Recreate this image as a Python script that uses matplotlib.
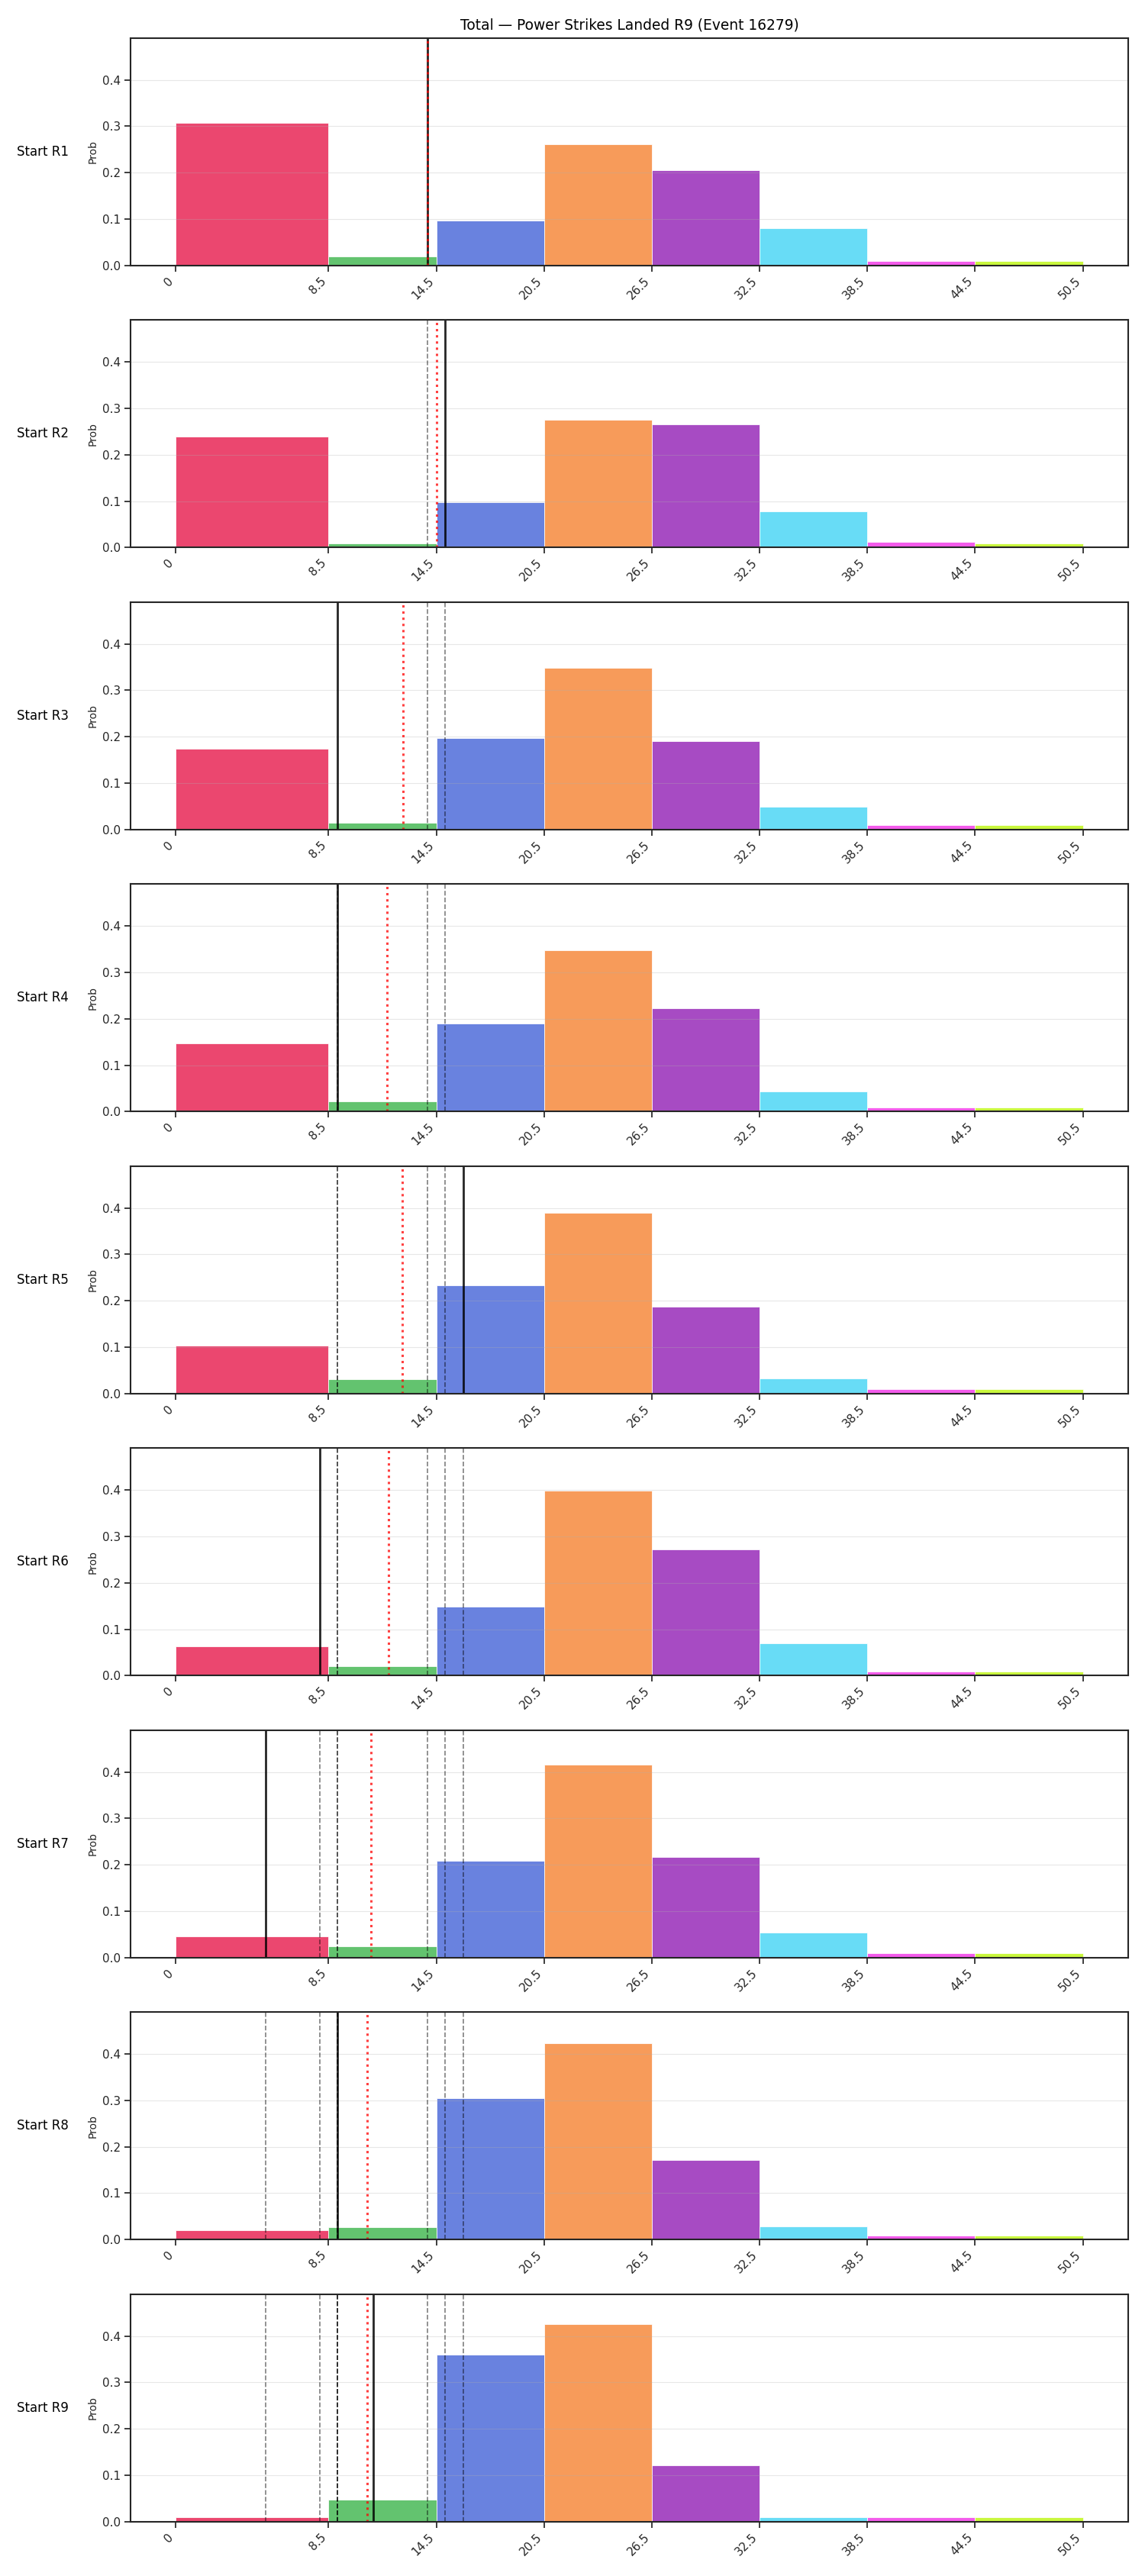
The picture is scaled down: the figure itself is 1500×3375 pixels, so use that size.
import numpy as np
import matplotlib
matplotlib.use("Agg")
import matplotlib.pyplot as plt

# ---------------- data ----------------
edges = [0, 8.5, 14.5, 20.5, 26.5, 32.5, 38.5, 44.5, 50.5]
tick_labels = ["0", "8.5", "14.5", "20.5", "26.5", "32.5", "38.5", "44.5", "50.5"]
bin_colors = ["#e6194b", "#3cb44b", "#4363d8", "#f58231",
              "#911eb4", "#42d4f4", "#f032e6", "#bcf60c"]

row_labels = ["Start R1", "Start R2", "Start R3", "Start R4", "Start R5",
              "Start R6", "Start R7", "Start R8", "Start R9"]

probs_r1 = [0.307, 0.020, 0.0964, 0.262, 0.205, 0.080, 0.009, 0.009]
probs_r2 = [0.239, 0.009, 0.097, 0.276, 0.265, 0.078, 0.012, 0.009]
probs_r3 = [0.174, 0.015, 0.1965, 0.349, 0.190, 0.049, 0.009, 0.009]
probs_r4 = [0.147, 0.022, 0.190, 0.347, 0.223, 0.044, 0.009, 0.009]
probs_r5 = [0.104, 0.031, 0.234, 0.390, 0.188, 0.032, 0.009, 0.009]
probs_r6 = [0.063, 0.020, 0.148, 0.398, 0.272, 0.070, 0.009, 0.009]
probs_r7 = [0.046, 0.025, 0.209, 0.4156, 0.216, 0.054, 0.009, 0.009]
probs_r8 = [0.021, 0.027, 0.304, 0.4225, 0.171, 0.028, 0.009, 0.009]
probs_r9 = [0.009, 0.048, 0.359, 0.425, 0.122, 0.009, 0.009, 0.009]
probs = [probs_r1, probs_r2, probs_r3, probs_r4, probs_r5,
         probs_r6, probs_r7, probs_r8, probs_r9]

# value landed in each round (solid line) and running mean (red dotted)
round_values = [14, 15, 9, 9, 16, 8, 5, 9, 11]
round_means = [14.0, 14.5, 12.67, 11.75, 12.6, 11.83, 10.86, 10.63, 10.67]

title = "Total \u2014 Power Strikes Landed R9 (Event 16279)"

# ---------------- figure ----------------
dark = "#262626"
fig, axes = plt.subplots(9, 1, figsize=(15, 33.75), dpi=100)
fig.subplots_adjust(left=0.114, right=0.9853, top=0.9852, bottom=0.0211, hspace=0.24)

widths = np.diff(edges)
for k, ax in enumerate(axes):
    ax.bar(edges[:-1], probs[k], width=widths, align="edge", color=bin_colors,
           alpha=0.8, edgecolor="white", linewidth=0.7)
    for v in round_values[:k]:
        ax.axvline(v, color="black", linestyle="--", linewidth=1.2, alpha=0.5)
    ax.axvline(round_values[k], color="black", linewidth=2, alpha=0.85)
    ax.axvline(round_means[k], color="red", linestyle=":", linewidth=2.2, alpha=0.75)

    ax.set_ylim(0, 0.49)
    ax.set_yticks([0.0, 0.1, 0.2, 0.3, 0.4])
    ax.set_xticks(edges)
    ax.set_xticklabels(tick_labels, rotation=45, ha="right")
    ax.tick_params(axis="both", labelsize=11, length=5.5, width=1.25,
                   color=dark, labelcolor=dark)
    ax.grid(axis="y", alpha=0.3)
    for s in ax.spines.values():
        s.set_linewidth(1.5)
        s.set_color(dark)
    ax.set_ylabel("Prob", fontsize=10, color=dark)
    ax.text(-0.062, 0.5, row_labels[k], transform=ax.transAxes,
            ha="right", va="center", fontsize=12, color="black")

axes[0].set_title(title, fontsize=13.4, pad=8, color="black")

fig.savefig("out.png", dpi=100)
